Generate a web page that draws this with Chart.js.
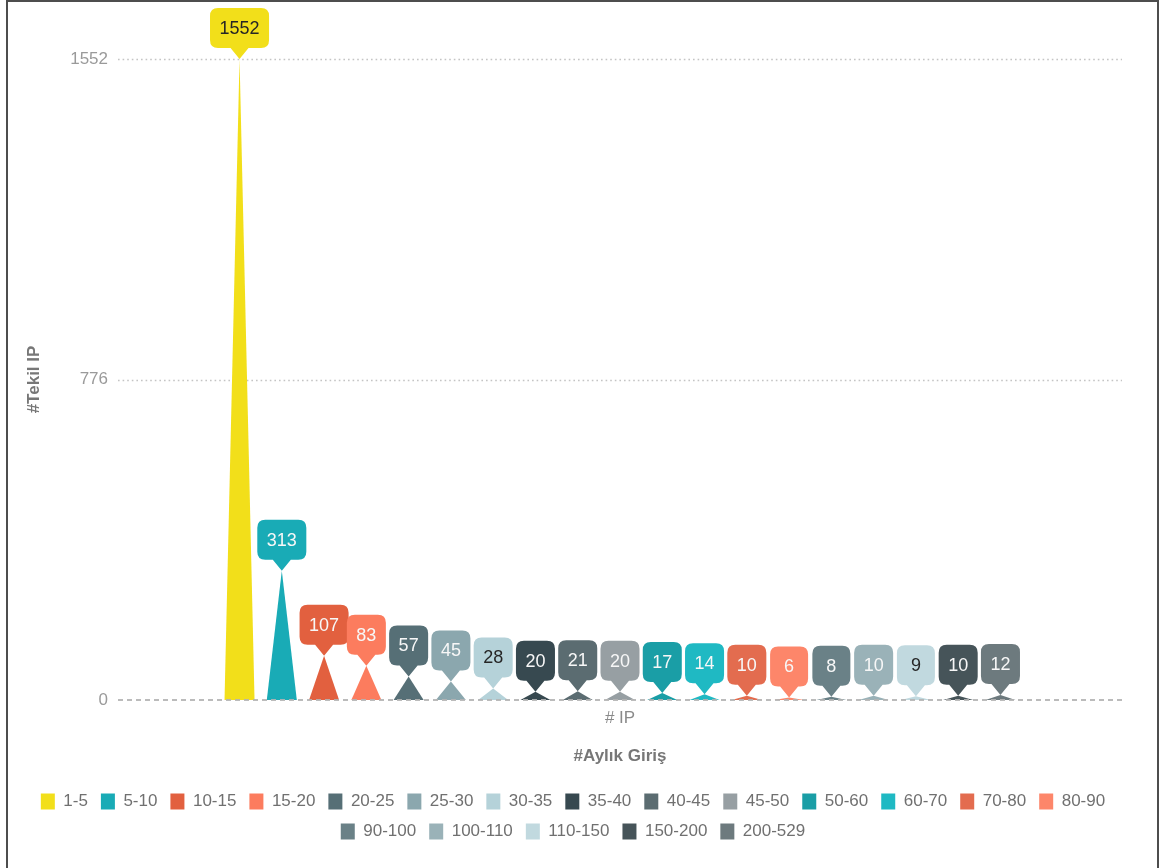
<!DOCTYPE html>
<html>
<head>
<meta charset="utf-8">
<title>#Tekil IP / #Aylık Giriş</title>
<script src="https://cdn.jsdelivr.net/npm/chart.js@4.4.1/dist/chart.umd.min.js"></script>
<style>
  html, body { margin: 0; padding: 0; background: #fff; }
  #wrap { position: relative; width: 1164px; height: 868px; overflow: hidden; }
  #chart { position: absolute; left: 0; top: 0; }
  #frame { position: absolute; left: 6px; top: 0; width: 1149px; height: 900px;
           border: 2px solid #4d4d4d; pointer-events: none; }
</style>
</head>
<body>
<div id="wrap">
  <canvas id="chart" width="1164" height="868"></canvas>
  <div id="frame"></div>
</div>
<script>
// Monthly login ranges and the number of unique IPs in each
const categories = ['# IP'];
const rangeLabels = ['1-5', '5-10', '10-15', '15-20', '20-25', '25-30', '30-35', '35-40',
  '40-45', '45-50', '50-60', '60-70', '70-80', '80-90', '90-100', '100-110',
  '110-150', '150-200', '200-529'];
const uniqueIpCounts = [1552, 313, 107, 83, 57, 45, 28, 20, 21, 20, 17, 14, 10, 6, 8, 10, 9, 10, 12];
const yTickValues = [0, 776, 1552];
const yTickLabels = ['0', '776', '1552'];

const rangeColors = ['#F2DF1A', '#19ABB6', '#E2603F', '#FC7C5E', '#566F76', '#8BA7AE',
  '#B5D2D9', '#374950', '#5B6C71', '#979FA3', '#1A9EA6', '#1FB9C3', '#E36C4F',
  '#FD866A', '#6A8187', '#9AB2B8', '#C1D9DF', '#465459', '#6D7A7E'];

Chart.defaults.font.family = "'Liberation Sans', Arial, sans-serif";

function luminance(hex) {
  const n = parseInt(hex.slice(1), 16);
  return (0.299 * (n >> 16) + 0.587 * ((n >> 8) & 255) + 0.114 * (n & 255)) / 255;
}

// Rounded box whose bottom edge tapers into a pointer at (tipX, tipY)
function calloutPath(ctx, x, y, w, h, r, tipX, tipY, ptrW) {
  ctx.moveTo(x + r, y);
  ctx.lineTo(x + w - r, y);
  ctx.quadraticCurveTo(x + w, y, x + w, y + r);
  ctx.lineTo(x + w, y + h - r);
  ctx.quadraticCurveTo(x + w, y + h, x + w - r, y + h);
  ctx.lineTo(tipX + ptrW, y + h);
  ctx.lineTo(tipX, tipY);
  ctx.lineTo(tipX - ptrW, y + h);
  ctx.lineTo(x + r, y + h);
  ctx.quadraticCurveTo(x, y + h, x, y + h - r);
  ctx.lineTo(x, y + r);
  ctx.quadraticCurveTo(x, y, x + r, y);
  ctx.closePath();
}

// Spikes rising from zero, each topped with a value callout
const spikeCallouts = {
  id: 'spikeCallouts',
  beforeDatasetsDraw(chart) {
    const { ctx, chartArea, scales: { y } } = chart;
    ctx.save();
    yTickValues.forEach(v => {
      if (v === 0) return;
      const py = Math.round(y.getPixelForValue(v)) + 0.5;
      ctx.beginPath();
      ctx.setLineDash([1.6, 3]);
      ctx.lineWidth = 1.6;
      ctx.strokeStyle = '#c4c4c4';
      ctx.moveTo(chartArea.left, py);
      ctx.lineTo(chartArea.right, py);
      ctx.stroke();
    });
    ctx.restore();
  },
  beforeDatasetDraw() {
    return false;
  },
  afterDatasetsDraw(chart) {
    const { ctx, chartArea, scales: { y } } = chart;
    const boxH = 40, ptrH = 11, ptrW = 9, radius = 8;
    ctx.save();
    chart.data.datasets.forEach((ds, i) => {
      const meta = chart.getDatasetMeta(i);
      if (meta.hidden) return;
      const el = meta.data[0];
      const { x, y: top, base, width } = el.getProps(['x', 'y', 'base', 'width'], true);
      const color = ds.backgroundColor;
      // spike
      ctx.beginPath();
      ctx.moveTo(x - width / 2, base);
      ctx.lineTo(x, top);
      ctx.lineTo(x + width / 2, base);
      ctx.closePath();
      ctx.fillStyle = color;
      ctx.fill();
      // callout
      const text = String(ds.data[0]);
      ctx.font = "18px 'Liberation Sans', Arial, sans-serif";
      const tw = ctx.measureText(text).width;
      const w = Math.max(38, tw + 19);
      const bTop = top - ptrH - boxH;
      ctx.beginPath();
      calloutPath(ctx, x - w / 2, bTop, w, boxH, radius, x, top, ptrW);
      ctx.fillStyle = color;
      ctx.fill();
      ctx.fillStyle = luminance(color) > 0.75 ? '#262626' : '#f7f7f7';
      ctx.textAlign = 'center';
      ctx.textBaseline = 'middle';
      ctx.fillText(text, x, bTop + boxH / 2 + 1);
    });
    // zero line
    const py0 = Math.round(y.getPixelForValue(0));
    ctx.beginPath();
    ctx.setLineDash([5, 4]);
    ctx.lineWidth = 2;
    ctx.strokeStyle = 'rgba(180,180,180,0.9)';
    ctx.moveTo(chartArea.left, py0);
    ctx.lineTo(chartArea.right, py0);
    ctx.stroke();
    ctx.restore();
  }
};

new Chart(document.getElementById('chart'), {
  type: 'bar',
  data: {
    labels: categories,
    datasets: rangeLabels.map((label, i) => ({
      label,
      data: [uniqueIpCounts[i]],
      backgroundColor: rangeColors[i],
      borderWidth: 0
    }))
  },
  options: {
    responsive: false,
    animation: false,
    devicePixelRatio: 1,
    layout: { padding: { left: 24, right: 42, top: 59, bottom: 18 } },
    datasets: { bar: { categoryPercentage: 0.8, barPercentage: 0.71 } },
    scales: {
      x: {
        grid: { display: false, drawTicks: false, tickLength: 0 },
        border: { display: false },
        ticks: { color: '#8a8a8a', font: { size: 17 }, padding: 8 },
        title: {
          display: true, text: '#Aylık Giriş', color: '#777777',
          font: { size: 17, weight: 'bold' }, padding: { top: 0, bottom: 13 }
        },
        afterFit(scale) { scale.height = 80; }
      },
      y: {
        min: 0,
        max: 1552,
        afterBuildTicks(scale) { scale.ticks = yTickValues.map(v => ({ value: v })); },
        grid: { display: false, drawTicks: false, tickLength: 0 },
        border: { display: false },
        ticks: {
          color: '#9a9a9a', font: { size: 17 }, padding: 10,
          callback: v => yTickLabels[yTickValues.indexOf(v)]
        },
        title: {
          display: true, text: '#Tekil IP', color: '#777777',
          font: { size: 17, weight: 'bold' }, padding: { top: 0, bottom: 0 }
        },
        afterFit(scale) { scale.width = 94; }
      }
    },
    plugins: {
      legend: {
        position: 'bottom',
        labels: { boxWidth: 14, boxHeight: 16, padding: 13, color: '#707070', font: { size: 17 } }
      },
      tooltip: { enabled: false }
    }
  },
  plugins: [spikeCallouts]
});
</script>
</body>
</html>
